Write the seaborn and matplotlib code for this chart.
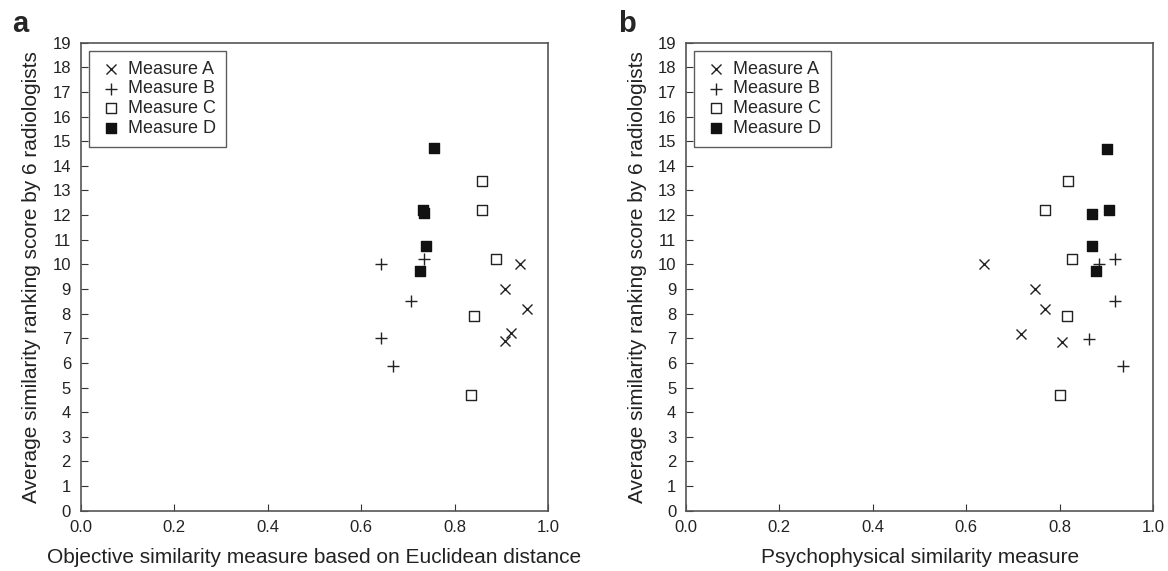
import pandas as pd
import matplotlib.pyplot as plt
import seaborn as sns
import numpy as np

measures = ['Measure A', 'Measure B', 'Measure C', 'Measure D']

# panel a: objective similarity (Euclidean distance)
obj_x = {
    'Measure A': [0.939, 0.909, 0.955, 0.921, 0.909],
    'Measure B': [0.643, 0.735, 0.706, 0.642, 0.668],
    'Measure C': [0.859, 0.859, 0.888, 0.842, 0.835],
    'Measure D': [0.756, 0.732, 0.734, 0.739, 0.725],
}
obj_y = {
    'Measure A': [10.0, 9.01, 8.19, 7.2, 6.89],
    'Measure B': [10.0, 10.2, 8.51, 7.0, 5.86],
    'Measure C': [13.4, 12.2, 10.23, 7.92, 4.70],
    'Measure D': [14.73, 12.21, 12.07, 10.75, 9.74],
}

# panel b: psychophysical similarity
psy_x = {
    'Measure A': [0.638, 0.747, 0.768, 0.716, 0.805],
    'Measure B': [0.884, 0.919, 0.919, 0.862, 0.936],
    'Measure C': [0.817, 0.769, 0.825, 0.815, 0.801],
    'Measure D': [0.900, 0.905, 0.868, 0.868, 0.877],
}
psy_y = {
    'Measure A': [10.0, 9.0, 8.19, 7.18, 6.86],
    'Measure B': [10.03, 10.22, 8.5, 6.98, 5.87],
    'Measure C': [13.39, 12.2, 10.23, 7.89, 4.70],
    'Measure D': [14.7, 12.2, 12.06, 10.73, 9.73],
}

sns.set_style('white')
plt.rcParams['font.family'] = ['Liberation Sans', 'DejaVu Sans']

styles = {
    'Measure A': dict(marker='x', s=52, color='#222222', linewidths=1.0),
    'Measure B': dict(marker='+', s=64, color='#222222', linewidths=1.0),
    'Measure C': dict(marker='s', s=42, facecolor='white', edgecolor='#222222', linewidth=1.0),
    'Measure D': dict(marker='s', s=42, color='#111111', edgecolor='#111111', linewidth=1.0),
}


def make_frame(xs, ys):
    rows = []
    for m in measures:
        for x, y in zip(xs[m], ys[m]):
            rows.append({'measure': m, 'x': x, 'y': y})
    return pd.DataFrame(rows)


fig = plt.figure(figsize=(11.68, 5.71), dpi=100)
ax_a = fig.add_axes([0.0691, 0.1056, 0.4001, 0.8196])
ax_b = fig.add_axes([0.5873, 0.1056, 0.4001, 0.8196])

panels = [
    (ax_a, make_frame(obj_x, obj_y), 'Objective similarity measure based on Euclidean distance'),
    (ax_b, make_frame(psy_x, psy_y), 'Psychophysical similarity measure'),
]

for ax, df, xlabel in panels:
    for m in measures:
        sub = df[df['measure'] == m]
        sns.scatterplot(data=sub, x='x', y='y', ax=ax, label=m, **styles[m])
    ax.set_xlim(0, 1.0)
    ax.set_ylim(0, 19)
    ax.set_xticks(np.arange(0, 1.01, 0.2))
    ax.set_xticklabels([f'{v:.1f}' for v in np.arange(0, 1.01, 0.2)])
    ax.set_yticks(range(0, 20))
    ax.tick_params(direction='in', length=5, width=0.8, colors='#333333',
                   labelsize=12, labelcolor='#222222', bottom=True, left=True, pad=7)
    for sp in ax.spines.values():
        sp.set_color('#555555')
        sp.set_linewidth(1.2)
    ax.set_xlabel(xlabel, fontsize=15.0, color='#222222', labelpad=9)
    ax.set_ylabel('Average similarity ranking score by 6 radiologists', fontsize=15.0,
                  color='#222222', labelpad=8)
    leg = ax.legend(loc='upper left', bbox_to_anchor=(0.018, 0.983), fontsize=13,
                    frameon=True, fancybox=False, edgecolor='#333333',
                    handletextpad=0.3, borderpad=0.55, labelspacing=0.15,
                    handlelength=1.3, borderaxespad=0.0)
    leg.get_frame().set_linewidth(1.0)

fig.text(0.0103, 0.944, 'a', fontsize=21, fontweight='bold', va='baseline', ha='left')
fig.text(0.529, 0.944, 'b', fontsize=21, fontweight='bold', va='baseline', ha='left')

fig.savefig('out.png', dpi=100)
